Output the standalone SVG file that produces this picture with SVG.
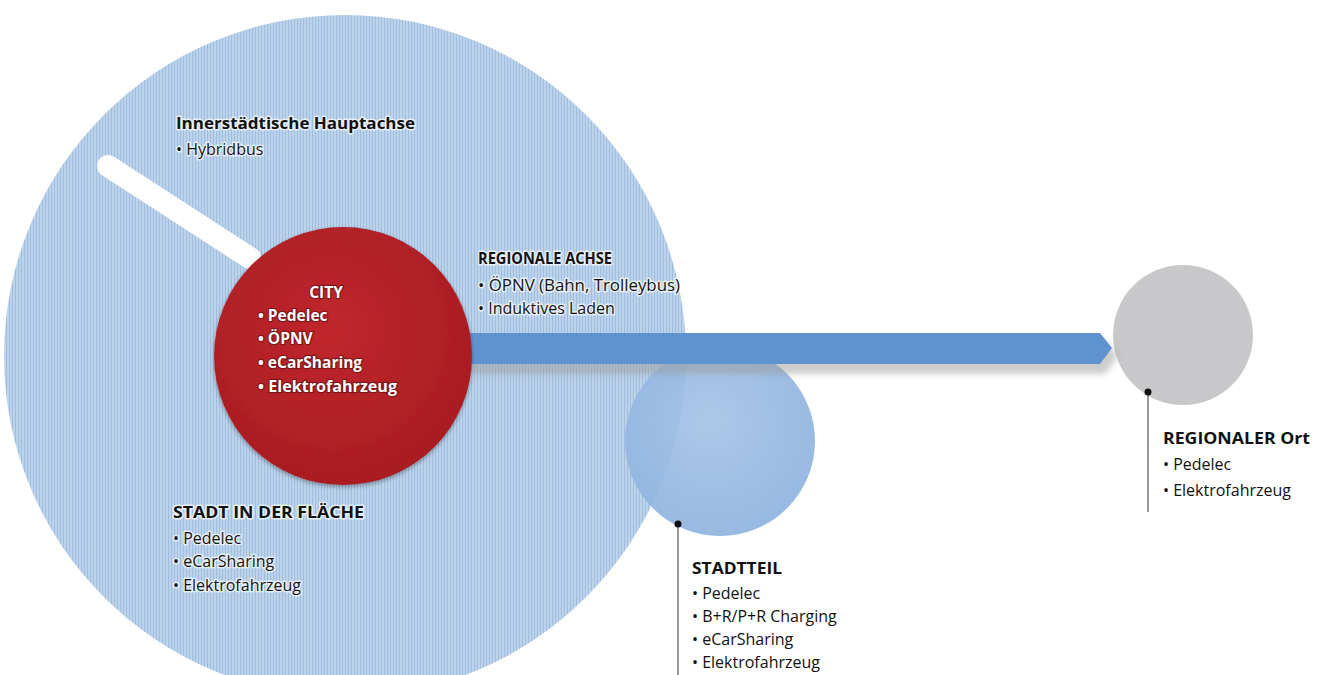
<svg xmlns="http://www.w3.org/2000/svg" width="1323" height="675" viewBox="0 0 1323 675">
<defs>
<pattern id="stripes" width="3" height="10" patternUnits="userSpaceOnUse">
<rect width="3" height="10" fill="#bcd3ea"/>
<rect width="1" height="10" fill="#9fbde0"/>
</pattern>
<radialGradient id="stGrad" cx="0.45" cy="0.4" r="0.6">
<stop offset="0" stop-color="#a6c3e6"/>
<stop offset="1" stop-color="#8fb3df"/>
</radialGradient>
<radialGradient id="redGrad" cx="0.45" cy="0.4" r="0.6">
<stop offset="0" stop-color="#c0272d"/>
<stop offset="1" stop-color="#a91d22"/>
</radialGradient>
<filter id="soft" x="-20%" y="-20%" width="140%" height="140%">
<feGaussianBlur stdDeviation="3"/>
</filter>
<filter id="shadow" x="-10%" y="-10%" width="120%" height="120%">
<feDropShadow dx="0" dy="2" stdDeviation="2" flood-color="#000" flood-opacity="0.35"/>
</filter>
</defs>
<style>
text{font-family:"Open Sans","Noto Sans","Liberation Sans",sans-serif;font-size:16px;fill:#111}
.h{font-weight:bold;font-size:16px}
.glow{paint-order:stroke;stroke:#ffffff;stroke-opacity:0.7;stroke-width:3px;stroke-linejoin:round}
.w{fill:#fff;font-weight:bold;font-size:15.5px;paint-order:stroke;stroke:#5a0d10;stroke-width:2.5px;stroke-opacity:0.6;stroke-linejoin:round}
.lead{stroke:#333;stroke-width:1}
</style>
<rect width="1323" height="675" fill="#ffffff"/>

<g id="stadt-in-der-flaeche">
<circle cx="345" cy="356" r="341" fill="url(#stripes)"/>
</g>

<g id="stadtteil">
<circle cx="720" cy="441" r="95" fill="url(#stGrad)" opacity="0.92"/>
</g>

<g id="regionaler-ort">
<circle cx="1183" cy="335" r="70" fill="#c8c8ca"/>
</g>

<g id="connectors">
<line x1="108" y1="166" x2="250" y2="258" stroke="#ffffff" stroke-width="22" stroke-linecap="round"/>
<path d="M470,341 L1105,341 L1118,356 L1105,374 L470,374 Z" fill="#9a9a9a" opacity="0.5" filter="url(#soft)"/>
<path d="M470,333 L1100,333 L1112,348 L1100,364 L470,364 Z" fill="#5f93cf"/>
<line class="lead" x1="678" y1="524" x2="678" y2="675"/>
<circle cx="678" cy="524" r="3.5" fill="#111"/>
<line class="lead" x1="1148" y1="392" x2="1148" y2="512"/>
<circle cx="1148" cy="392" r="3.5" fill="#111"/>
</g>

<g id="city">
<circle cx="343" cy="356" r="129" fill="url(#redGrad)" filter="url(#shadow)"/>
<text class="w" x="326" y="298" text-anchor="middle" font-size="16">CITY</text>
<text class="w" x="258" y="321">• Pedelec</text>
<text class="w" x="258" y="344">• ÖPNV</text>
<text class="w" x="258" y="368">• eCarSharing</text>
<text class="w" x="258" y="392" textLength="139" lengthAdjust="spacingAndGlyphs">• Elektrofahrzeug</text>
</g>

<g id="innerstaedtische-hauptachse">
<text class="h glow" x="176" y="129" textLength="239" lengthAdjust="spacingAndGlyphs">Innerstädtische Hauptachse</text>
<text class="glow" x="176" y="155">• Hybridbus</text>
</g>

<g id="regionale-achse">
<text class="h glow" x="478" y="264" textLength="134" lengthAdjust="spacingAndGlyphs">REGIONALE ACHSE</text>
<text class="glow" x="478" y="291" textLength="202" lengthAdjust="spacingAndGlyphs">• ÖPNV (Bahn, Trolleybus)</text>
<text class="glow" x="478" y="314">• Induktives Laden</text>
</g>

<g id="stadt-labels">
<text class="h glow" x="173" y="518" textLength="191" lengthAdjust="spacingAndGlyphs">STADT IN DER FLÄCHE</text>
<text class="glow" x="173" y="544">• Pedelec</text>
<text class="glow" x="173" y="567">• eCarSharing</text>
<text class="glow" x="173" y="591">• Elektrofahrzeug</text>
</g>

<g id="stadtteil-labels">
<text class="h" x="692" y="574" textLength="90" lengthAdjust="spacingAndGlyphs">STADTTEIL</text>
<text x="692" y="599">• Pedelec</text>
<text x="692" y="622">• B+R/P+R Charging</text>
<text x="692" y="645">• eCarSharing</text>
<text x="692" y="668">• Elektrofahrzeug</text>
</g>

<g id="regionaler-ort-labels">
<text class="h" x="1163" y="444" textLength="147" lengthAdjust="spacingAndGlyphs">REGIONALER Ort</text>
<text x="1163" y="470">• Pedelec</text>
<text x="1163" y="496">• Elektrofahrzeug</text>
</g>
</svg>
